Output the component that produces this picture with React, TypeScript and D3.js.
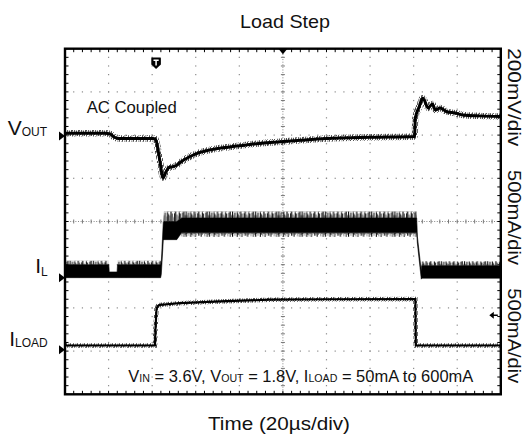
import * as d3 from 'd3';

const W = 527;
const H = 438;

// scope settings
const timeDomain: [number, number] = [0, 200]; // µs, 20 µs/div
const divX = 10;
const divY = 8;
const mvPerDiv = 200;
const maPerDiv = 500;

// channel ground markers, in divisions from screen centre
const voutGround = 1.98;
const ilGround = -1.3;
const iloadGround = -2.97;

const triggerTime = 41.8; // µs
const triggerLevel = 400; // mA on I_LOAD
const horizPosition = 100; // µs

// V_OUT, AC coupled (mV)
const voutTime = [0, 18.4, 20.7, 22.5, 24.3, 40.4, 41.5, 43.1, 45.1, 46.3, 47.7, 50, 51.4, 52.8, 57.4, 62, 68.8, 75.7, 84.9, 94.1, 107.8, 120.2, 139.9, 160.4, 160.8, 162.5, 164.2, 166.7, 168.6, 170, 172.1, 175.2, 179, 182.6, 190.4, 200];
const voutMv = [12, 12, 9, -5, -12, -12, -14, -88, -194, -167, -146, -141, -134, -123, -95, -76, -60, -51, -39, -30, -20, -12, -6, -2, 83, 134, 175, 130, 148, 120, 130, 112, 106, 97, 93, 90];

// I_LOAD (mA)
const iloadTime = [0, 41.3, 41.5, 42, 42.7, 43.6, 48.2, 52.8, 71.1, 94.1, 121.6, 160.8, 161, 200];
const iloadMa = [50, 50, 230, 475, 510, 520, 530, 540, 560, 580, 585, 588, 50, 50];

// I_L envelope (mA): spike tops, dense band, spike bottoms
const ilTime = [0, 20.1, 20.3, 23.9, 24.1, 43.9, 44.2, 45.1, 45.4, 51.3, 53.5, 161.4, 161.7, 163.5, 163.7, 200];
const ilSpikeTop = [197, 197, 66, 66, 197, 197, 180, 640, 765, 765, 765, 765, 480, 80, 189, 189];
const ilCoreTop = [150, 150, 66, 66, 150, 150, 180, 640, 650, 650, 690, 690, 480, 80, 139, 139];
const ilCoreBottom = [0, 0, 0, 0, 0, 0, 40, 430, 440, 440, 520, 520, 400, -17, -6, -6];
const ilSpikeBottom = [-12, -12, -12, -12, -12, -12, 40, 430, 405, 405, 470, 470, 400, -17, -17, -17];

const font = '"Liberation Sans", Arial, Helvetica, sans-serif';

// stripe texture for the switching noise (style only)
const upOffsets = [0, 3.5, 1, 5, 0.5, 2.5, 4, 0, 2, 5.5, 1.5, 0, 3, 4.5, 0.5, 2, 6, 1, 0, 3.5];
const upShades = ['#111', '#666', '#222', '#888', '#111', '#444', '#777', '#000', '#333', '#999', '#222', '#111', '#555', '#888', '#111', '#333', '#aaa', '#222', '#000', '#666'];
const downLengths = [4, 1, 3, 0.5, 4.5, 2, 3.5, 1, 5, 2.5, 0.5, 3, 1.5, 4, 2, 0.5, 3.5, 1, 4.5, 2];
const fuzzStripes = [[0, 0, 3], [1, 4, 3], [2, 1.5, 4], [3.2, 0, 2], [4.3, 3, 4], [5.5, 0.5, 3], [6.2, 4.5, 2.5]];
const stripeStep = 1.16;

export default function App() {
  const x = d3.scaleLinear().domain(timeDomain).range([65, 500.8]);
  const y = d3.scaleLinear().domain([-divY / 2, divY / 2]).range([394.3, 48.7]);
  const [x0, x1] = x.range();
  const yTop = y(divY / 2);
  const yBot = y(-divY / 2);

  const yV = (mv: number) => y(voutGround + mv / mvPerDiv);
  const yI = (ma: number) => y(ilGround + ma / maPerDiv);
  const yL = (ma: number) => y(iloadGround + ma / maPerDiv);

  const majorT = d3.range(0, 200.01, 200 / divX);
  const minorT = d3.range(0, 200.01, 200 / divX / 5);
  const majorD = d3.range(-4, 4.01, 1);
  const minorD = d3.range(-4, 4.001, 0.2);

  const voutLine = d3.line<number>()
    .x((_, i) => x(voutTime[i]))
    .y(d => yV(d))
    .curve(d3.curveMonotoneX)(voutMv) || '';

  const iloadLine = d3.line<number>()
    .x((_, i) => x(iloadTime[i]))
    .y(d => yL(d))(iloadMa) || '';

  const ilRows = ilTime.map((t, i) => ({
    t,
    st: ilSpikeTop[i],
    ct: ilCoreTop[i],
    cb: ilCoreBottom[i],
    sb: ilSpikeBottom[i],
  }));
  type Row = typeof ilRows[number];
  const coreArea = d3.area<Row>().x(d => x(d.t)).y0(d => yI(d.cb)).y1(d => yI(d.ct))(ilRows) || '';
  const topFringe = d3.area<Row>().x(d => x(d.t)).y0(d => yI(d.ct)).y1(d => yI(d.st))(ilRows) || '';
  const botFringe = d3.area<Row>().x(d => x(d.t)).y0(d => yI(d.sb)).y1(d => yI(d.cb))(ilRows) || '';

  const upY = yI(765);
  const upH = yI(197) - yI(765);
  const downY = yI(520);
  const tileW = stripeStep * upOffsets.length;

  const gridDots: JSX.Element[] = [];
  majorT.forEach(t => {
    if (t === 0 || t === 200 || t === horizPosition) return;
    minorD.forEach(d => {
      if (Math.abs(d) > 3.99) return;
      gridDots.push(<rect key={`v${t}_${d}`} x={x(t) - 0.6} y={y(d) - 0.6} width={1.2} height={1.2} fill="#8a8a8a" />);
    });
  });
  majorD.forEach(d => {
    if (Math.abs(d) > 3.99 || d === 0) return;
    minorT.forEach(t => {
      if (t === 0 || t === 200) return;
      gridDots.push(<rect key={`h${t}_${d}`} x={x(t) - 0.6} y={y(d) - 0.6} width={1.2} height={1.2} fill="#8a8a8a" />);
    });
  });

  const cx = x(horizPosition);
  const cy = y(0);
  const tx = x(triggerTime);
  const trigY = yL(triggerLevel);

  const marker = (yy: number, key: string) => (
    <path key={key} d={`M${x0 - 6},${yy - 4.5} L${x0},${yy} L${x0 - 6},${yy + 4.5} Z`} fill="#000" />
  );

  return (
    <svg width={W} height={H} style={{ position: 'absolute', left: 0, top: 0, background: '#fff' }} fontFamily={font}>
      <defs>
        <pattern id="spikeUp" patternUnits="userSpaceOnUse" x={0} y={upY} width={tileW} height={upH}>
          {upOffsets.map((off, i) => (
            <rect key={i} x={i * stripeStep} y={off} width={1.1} height={upH} fill={upShades[i]} />
          ))}
        </pattern>
        <pattern id="spikeDown" patternUnits="userSpaceOnUse" x={0} y={downY} width={tileW} height={40}>
          {downLengths.map((len, i) => (
            <rect key={i} x={i * stripeStep} y={0} width={1.1} height={len} fill={upShades[(i + 7) % upShades.length]} />
          ))}
        </pattern>
        <pattern id="fuzz" patternUnits="userSpaceOnUse" width={7} height={7}>
          {fuzzStripes.map(([sx, sy, len], i) => (
            <rect key={i} x={sx} y={sy} width={0.8} height={len} fill="#222" />
          ))}
        </pattern>
      </defs>

      {/* grid */}
      {gridDots}
      <line x1={cx} x2={cx} y1={yTop} y2={yBot} stroke="#888" strokeWidth={1} strokeDasharray="1 1.6" />
      <line x1={x0} x2={x1} y1={cy} y2={cy} stroke="#888" strokeWidth={1} strokeDasharray="1 1.6" />
      {minorD.map(d => (
        <line key={`cv${d}`} x1={cx - 2} x2={cx + 2} y1={y(d)} y2={y(d)} stroke="#777" strokeWidth={1} />
      ))}
      {minorT.map(t => (
        <line key={`ch${t}`} x1={x(t)} x2={x(t)} y1={cy - 2} y2={cy + 2} stroke="#777" strokeWidth={1} />
      ))}
      {minorT.map(t => (
        <g key={`ft${t}`}>
          <line x1={x(t)} x2={x(t)} y1={yTop} y2={yTop + 3.5} stroke="#000" strokeWidth={1} />
          <line x1={x(t)} x2={x(t)} y1={yBot - 3.5} y2={yBot} stroke="#000" strokeWidth={1} />
        </g>
      ))}
      {minorD.map(d => (
        <g key={`fd${d}`}>
          <line x1={x0} x2={x0 + 3.5} y1={y(d)} y2={y(d)} stroke="#000" strokeWidth={1} />
          <line x1={x1 - 3.5} x2={x1} y1={y(d)} y2={y(d)} stroke="#000" strokeWidth={1} />
        </g>
      ))}

      {/* traces */}
      <path d={topFringe} fill="url(#spikeUp)" />
      <path d={botFringe} fill="url(#spikeDown)" />
      <path d={coreArea} fill="#000" stroke="#000" strokeWidth={0.6} />

      <path d={voutLine} fill="none" stroke="url(#fuzz)" strokeWidth={6.5} />
      <path d={voutLine} fill="none" stroke="#000" strokeWidth={3} />
      <path d={iloadLine} fill="none" stroke="url(#fuzz)" strokeWidth={4.5} />
      <path d={iloadLine} fill="none" stroke="#000" strokeWidth={2.2} />

      {/* frame */}
      <rect x={x0} y={yTop} width={x1 - x0} height={yBot - yTop} fill="none" stroke="#000" strokeWidth={2.4} />

      {/* scope markers */}
      {marker(yV(0), 'mv')}
      {marker(yI(0), 'mi')}
      {marker(yL(0), 'ml')}
      <path d={`M${cx - 4.5},${yTop} L${cx + 4.5},${yTop} L${cx},${yTop + 5.5} Z`} fill="#000" />
      <path d={`M${tx - 4.5},${57.5} L${tx + 4.5},${57.5} Q${tx + 4.8},${57.5} ${tx + 4.8},${59} L${tx + 4.8},${64.5} L${tx},${69} L${tx - 4.8},${64.5} L${tx - 4.8},${59} Q${tx - 4.8},${57.5} ${tx - 4.5},${57.5} Z`} fill="#000" />
      <path d={`M${tx - 2.6},${60.2} L${tx + 2.6},${60.2} M${tx},${60.2} L${tx},${65.5}`} stroke="#fff" strokeWidth={1.5} />
      <path d={`M${x1 - 11.5},${trigY} L${x1 - 7},${trigY - 3.6} L${x1 - 7},${trigY + 3.6} Z M${x1 - 7.5},${trigY - 0.8} h4.5 v1.6 h-4.5 Z`} fill="#000" />

      {/* texts */}
      <text x={285} y={28.3} fontSize={18.2} textAnchor="middle" textLength={90} lengthAdjust="spacingAndGlyphs" fill="#111">Load Step</text>
      <text x={86.7} y={113.3} fontSize={16.3} textLength={90} lengthAdjust="spacingAndGlyphs" fill="#111">AC Coupled</text>

      <text x={47} y={135} fontSize={21} textAnchor="end" fill="#111">V<tspan fontSize={12} dy={1}>OUT</tspan></text>
      <text x={47.7} y={273.3} fontSize={21} textAnchor="end" fill="#111">I<tspan fontSize={12} dy={2.7}>L</tspan></text>
      <text x={47.7} y={346} fontSize={21} textAnchor="end" fill="#111">I<tspan fontSize={12} dy={1.3}>LOAD</tspan></text>

      <text x={128.3} y={381.7} fontSize={16.3} textLength={345} lengthAdjust="spacingAndGlyphs" fill="#111">
        V<tspan fontSize={10.5} dy={0.6}>IN</tspan><tspan dy={-0.6}> = 3.6V, V</tspan><tspan fontSize={10.5} dy={0.6}>OUT</tspan><tspan dy={-0.6}> = 1.8V, I</tspan><tspan fontSize={10.5} dy={0.6}>LOAD</tspan><tspan dy={-0.6}> = 50mA to 600mA</tspan>
      </text>

      <text x={279} y={430} fontSize={18.6} textAnchor="middle" textLength={142} lengthAdjust="spacingAndGlyphs" fill="#111">Time (20µs/div)</text>

      <text transform="translate(508,97.3) rotate(90)" fontSize={18.8} textAnchor="middle" textLength={98} lengthAdjust="spacingAndGlyphs" fill="#111">200mV/div</text>
      <text transform="translate(508,217.5) rotate(90)" fontSize={18.8} textAnchor="middle" textLength={95} lengthAdjust="spacingAndGlyphs" fill="#111">500mA/div</text>
      <text transform="translate(508,335.8) rotate(90)" fontSize={18.8} textAnchor="middle" textLength={95} lengthAdjust="spacingAndGlyphs" fill="#111">500mA/div</text>
    </svg>
  );
}
